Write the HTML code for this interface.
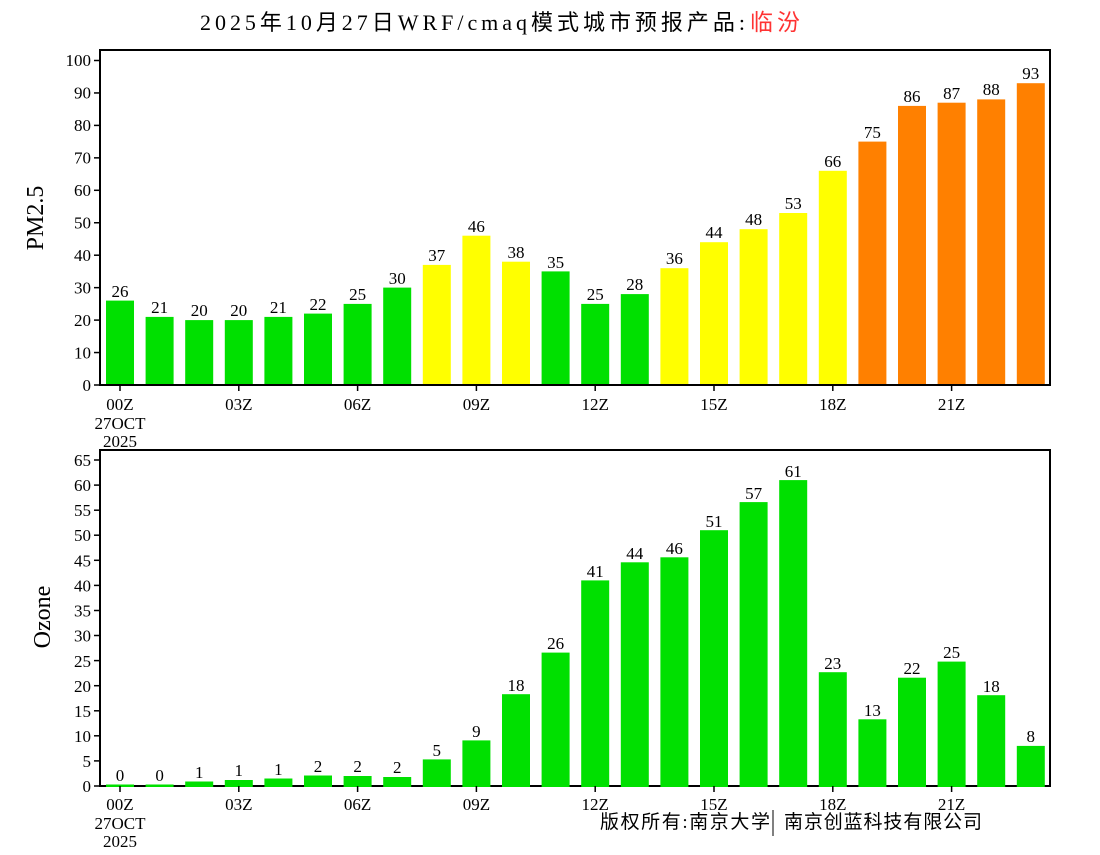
<!DOCTYPE html>
<html><head><meta charset="utf-8"><style>
html,body{margin:0;padding:0;background:#fff;}
svg text{font-family:"Liberation Serif","WenQuanYi Zen Hei","Noto Sans CJK SC",serif;fill:#000;}
.t{font-size:17px;text-anchor:end;}
.v{font-size:17px;text-anchor:middle;}
.x{font-size:17px;text-anchor:middle;}
</style></head><body>
<svg width="1100" height="850" xmlns="http://www.w3.org/2000/svg">
<rect width="1100" height="850" fill="#fff"/>
<text x="200" y="30" style="font-size:22px" textLength="545" lengthAdjust="spacing">2025年10月27日WRF/cmaq模式城市预报产品:</text>
<text x="750" y="30" style="font-size:23px;fill:#ff3333" textLength="50">临汾</text>
<text transform="translate(43,218) rotate(-90)" style="font-size:24px;text-anchor:middle">PM2.5</text>
<text transform="translate(50,617) rotate(-90)" style="font-size:24px;text-anchor:middle">Ozone</text>

<!-- TOP CHART -->
<g fill="#00e000">
<rect x="106" y="300.6" width="28" height="84.4"/>
<rect x="145.6" y="316.9" width="28" height="68.1"/>
<rect x="185.2" y="320.1" width="28" height="64.9"/>
<rect x="224.8" y="320.1" width="28" height="64.9"/>
<rect x="264.4" y="316.9" width="28" height="68.1"/>
<rect x="304" y="313.6" width="28" height="71.4"/>
<rect x="343.6" y="303.9" width="28" height="81.1"/>
<rect x="383.2" y="287.6" width="28" height="97.4"/>
<rect x="541.6" y="271.4" width="28" height="113.6"/>
<rect x="581.2" y="303.9" width="28" height="81.1"/>
<rect x="620.8" y="294.1" width="28" height="90.9"/>
</g>
<g fill="#ffff00">
<rect x="422.8" y="264.9" width="28" height="120.1"/>
<rect x="462.4" y="235.7" width="28" height="149.3"/>
<rect x="502" y="261.7" width="28" height="123.3"/>
<rect x="660.4" y="268.2" width="28" height="116.8"/>
<rect x="700" y="242.2" width="28" height="142.8"/>
<rect x="739.6" y="229.2" width="28" height="155.8"/>
<rect x="779.2" y="213" width="28" height="172"/>
<rect x="818.8" y="170.8" width="28" height="214.2"/>
</g>
<g fill="#ff8000">
<rect x="858.4" y="141.6" width="28" height="243.4"/>
<rect x="898" y="105.9" width="28" height="279.1"/>
<rect x="937.6" y="102.7" width="28" height="282.3"/>
<rect x="977.2" y="99.4" width="28" height="285.6"/>
<rect x="1016.8" y="83.2" width="28" height="301.8"/>
</g>
<g class="v">
<text class="v" x="120" y="297">26</text>
<text class="v" x="159.6" y="313">21</text>
<text class="v" x="199.2" y="316">20</text>
<text class="v" x="238.8" y="316">20</text>
<text class="v" x="278.4" y="313">21</text>
<text class="v" x="318" y="310">22</text>
<text class="v" x="357.6" y="300">25</text>
<text class="v" x="397.2" y="284">30</text>
<text class="v" x="436.8" y="261">37</text>
<text class="v" x="476.4" y="232">46</text>
<text class="v" x="516" y="258">38</text>
<text class="v" x="555.6" y="268">35</text>
<text class="v" x="595.2" y="300">25</text>
<text class="v" x="634.8" y="290">28</text>
<text class="v" x="674.4" y="264">36</text>
<text class="v" x="714" y="238">44</text>
<text class="v" x="753.6" y="225">48</text>
<text class="v" x="793.2" y="209">53</text>
<text class="v" x="832.8" y="167">66</text>
<text class="v" x="872.4" y="138">75</text>
<text class="v" x="912" y="102">86</text>
<text class="v" x="951.6" y="99">87</text>
<text class="v" x="991.2" y="95">88</text>
<text class="v" x="1030.8" y="79">93</text>
</g>
<rect x="100" y="50" width="950" height="335" fill="none" stroke="#000" stroke-width="2"/>
<g stroke="#000" stroke-width="1.5">
<line x1="94" y1="385" x2="100" y2="385"/><line x1="94" y1="352.55" x2="100" y2="352.55"/>
<line x1="94" y1="320.1" x2="100" y2="320.1"/><line x1="94" y1="287.65" x2="100" y2="287.65"/>
<line x1="94" y1="255.2" x2="100" y2="255.2"/><line x1="94" y1="222.75" x2="100" y2="222.75"/>
<line x1="94" y1="190.3" x2="100" y2="190.3"/><line x1="94" y1="157.85" x2="100" y2="157.85"/>
<line x1="94" y1="125.4" x2="100" y2="125.4"/><line x1="94" y1="92.95" x2="100" y2="92.95"/>
<line x1="94" y1="60.5" x2="100" y2="60.5"/>
<line x1="120" y1="385" x2="120" y2="391"/><line x1="238.8" y1="385" x2="238.8" y2="391"/>
<line x1="357.6" y1="385" x2="357.6" y2="391"/><line x1="476.4" y1="385" x2="476.4" y2="391"/>
<line x1="595.2" y1="385" x2="595.2" y2="391"/><line x1="714" y1="385" x2="714" y2="391"/>
<line x1="832.8" y1="385" x2="832.8" y2="391"/><line x1="951.6" y1="385" x2="951.6" y2="391"/>
</g>
<text class="t" x="91" y="391">0</text><text class="t" x="91" y="358.5">10</text>
<text class="t" x="91" y="326">20</text><text class="t" x="91" y="293.5">30</text>
<text class="t" x="91" y="261">40</text><text class="t" x="91" y="228.5">50</text>
<text class="t" x="91" y="196">60</text><text class="t" x="91" y="163.5">70</text>
<text class="t" x="91" y="131">80</text><text class="t" x="91" y="98.5">90</text>
<text class="t" x="91" y="66">100</text>
<text class="x" x="120" y="410">00Z</text><text class="x" x="120" y="429">27OCT</text><text class="x" x="120" y="447">2025</text>
<text class="x" x="238.8" y="410">03Z</text><text class="x" x="357.6" y="410">06Z</text>
<text class="x" x="476.4" y="410">09Z</text><text class="x" x="595.2" y="410">12Z</text>
<text class="x" x="714" y="410">15Z</text><text class="x" x="832.8" y="410">18Z</text>
<text class="x" x="951.6" y="410">21Z</text>

<!-- BOTTOM CHART -->
<rect x="100" y="450" width="950" height="336" fill="none" stroke="#000" stroke-width="2"/>
<g fill="#00e000">
<rect x="106" y="784.5" width="28" height="2.5"/>
<rect x="145.6" y="784.5" width="28" height="2.5"/>
<rect x="185.2" y="781.5" width="28" height="5.5"/>
<rect x="224.8" y="780" width="28" height="7"/>
<rect x="264.4" y="778.5" width="28" height="8.5"/>
<rect x="304" y="775.5" width="28" height="11.5"/>
<rect x="343.6" y="776" width="28" height="11"/>
<rect x="383.2" y="777" width="28" height="10"/>
<rect x="422.8" y="759.4" width="28" height="27.6"/>
<rect x="462.4" y="740.4" width="28" height="46.6"/>
<rect x="502" y="694.2" width="28" height="92.8"/>
<rect x="541.6" y="652.6" width="28" height="134.4"/>
<rect x="581.2" y="580.4" width="28" height="206.6"/>
<rect x="620.8" y="562.3" width="28" height="224.7"/>
<rect x="660.4" y="557.3" width="28" height="229.7"/>
<rect x="700" y="530.2" width="28" height="256.8"/>
<rect x="739.6" y="502.1" width="28" height="284.9"/>
<rect x="779.2" y="480.1" width="28" height="306.9"/>
<rect x="818.8" y="672.2" width="28" height="114.8"/>
<rect x="858.4" y="719.3" width="28" height="67.7"/>
<rect x="898" y="677.7" width="28" height="109.3"/>
<rect x="937.6" y="661.6" width="28" height="125.4"/>
<rect x="977.2" y="695.2" width="28" height="91.8"/>
<rect x="1016.8" y="745.9" width="28" height="41.1"/>
</g>
<text class="v" x="120" y="781">0</text>
<text class="v" x="159.6" y="781">0</text>
<text class="v" x="199.2" y="778">1</text>
<text class="v" x="238.8" y="776">1</text>
<text class="v" x="278.4" y="775">1</text>
<text class="v" x="318" y="772">2</text>
<text class="v" x="357.6" y="772">2</text>
<text class="v" x="397.2" y="773">2</text>
<text class="v" x="436.8" y="756">5</text>
<text class="v" x="476.4" y="737">9</text>
<text class="v" x="516" y="691">18</text>
<text class="v" x="555.6" y="649">26</text>
<text class="v" x="595.2" y="577">41</text>
<text class="v" x="634.8" y="559">44</text>
<text class="v" x="674.4" y="554">46</text>
<text class="v" x="714" y="527">51</text>
<text class="v" x="753.6" y="499">57</text>
<text class="v" x="793.2" y="477">61</text>
<text class="v" x="832.8" y="669">23</text>
<text class="v" x="872.4" y="716">13</text>
<text class="v" x="912" y="674">22</text>
<text class="v" x="951.6" y="658">25</text>
<text class="v" x="991.2" y="692">18</text>
<text class="v" x="1030.8" y="742">8</text>
<g stroke="#000" stroke-width="1.5">
<line x1="94" y1="786" x2="100" y2="786"/><line x1="94" y1="760.9" x2="100" y2="760.9"/>
<line x1="94" y1="735.8" x2="100" y2="735.8"/><line x1="94" y1="710.8" x2="100" y2="710.8"/>
<line x1="94" y1="685.7" x2="100" y2="685.7"/><line x1="94" y1="660.6" x2="100" y2="660.6"/>
<line x1="94" y1="635.5" x2="100" y2="635.5"/><line x1="94" y1="610.5" x2="100" y2="610.5"/>
<line x1="94" y1="585.4" x2="100" y2="585.4"/><line x1="94" y1="560.3" x2="100" y2="560.3"/>
<line x1="94" y1="535.2" x2="100" y2="535.2"/><line x1="94" y1="510.2" x2="100" y2="510.2"/>
<line x1="94" y1="485.1" x2="100" y2="485.1"/><line x1="94" y1="460" x2="100" y2="460"/>
<line x1="120" y1="786" x2="120" y2="792"/><line x1="238.8" y1="786" x2="238.8" y2="792"/>
<line x1="357.6" y1="786" x2="357.6" y2="792"/><line x1="476.4" y1="786" x2="476.4" y2="792"/>
<line x1="595.2" y1="786" x2="595.2" y2="792"/><line x1="714" y1="786" x2="714" y2="792"/>
<line x1="832.8" y1="786" x2="832.8" y2="792"/><line x1="951.6" y1="786" x2="951.6" y2="792"/>
</g>
<text class="t" x="91" y="792">0</text><text class="t" x="91" y="767">5</text>
<text class="t" x="91" y="742">10</text><text class="t" x="91" y="717">15</text>
<text class="t" x="91" y="692">20</text><text class="t" x="91" y="667">25</text>
<text class="t" x="91" y="641.5">30</text><text class="t" x="91" y="616.5">35</text>
<text class="t" x="91" y="591.5">40</text><text class="t" x="91" y="566.5">45</text>
<text class="t" x="91" y="541">50</text><text class="t" x="91" y="516">55</text>
<text class="t" x="91" y="491">60</text><text class="t" x="91" y="466">65</text>
<text class="x" x="120" y="810">00Z</text><text class="x" x="120" y="829">27OCT</text><text class="x" x="120" y="847">2025</text>
<text class="x" x="238.8" y="810">03Z</text><text class="x" x="357.6" y="810">06Z</text>
<text class="x" x="476.4" y="810">09Z</text><text class="x" x="595.2" y="810">12Z</text>
<text class="x" x="714" y="810">15Z</text><text class="x" x="832.8" y="810">18Z</text>
<text class="x" x="951.6" y="810">21Z</text>
<text x="600" y="828" style="font-size:19px" textLength="170">版权所有:南京大学</text>
<line x1="773" y1="810" x2="773" y2="836" stroke="#000" stroke-width="1"/>
<text x="784" y="828" style="font-size:19px" textLength="198">南京创蓝科技有限公司</text>
</svg>
</body></html>
